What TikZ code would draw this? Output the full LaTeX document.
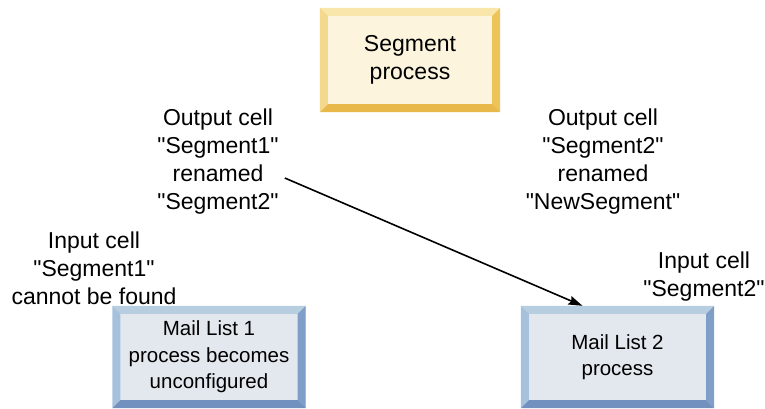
\documentclass[tikz,border=0pt]{standalone}
\usepackage{fontspec}
\setmainfont{Liberation Sans}
\usetikzlibrary{calc,arrows.meta}
\definecolor{segin}{HTML}{FCF4DD}
\definecolor{segtop}{HTML}{F9E6AA}
\definecolor{segleft}{HTML}{F4D98C}
\definecolor{segright}{HTML}{EDC45A}
\definecolor{segbot}{HTML}{E9B84A}
\definecolor{mlin}{HTML}{E3E8EE}
\definecolor{mltop}{HTML}{B6CEE0}
\definecolor{mlleft}{HTML}{A6C1DC}
\definecolor{mlright}{HTML}{7F9FC8}
\definecolor{mlbot}{HTML}{7391BE}
\newcommand{\mybevel}[5]{%
  \fill[#2] (#1.north west) -- (#1.north east) -- ($(#1.north east)+(-8,8)$) -- ($(#1.north west)+(8,8)$) -- cycle;
  \fill[#3] (#1.north west) -- ($(#1.north west)+(8,8)$) -- ($(#1.south west)+(8,-8)$) -- (#1.south west) -- cycle;
  \fill[#4] (#1.north east) -- ($(#1.north east)+(-8,8)$) -- ($(#1.south east)+(-8,-8)$) -- (#1.south east) -- cycle;
  \fill[#5] (#1.south west) -- ($(#1.south west)+(8,-8)$) -- ($(#1.south east)+(-8,-8)$) -- (#1.south east) -- cycle;
}
\newcommand{\dq}{\textquotedbl}
\tikzset{
  lbl/.style={align=center, inner sep=0pt, font=\fontsize{23}{28}\selectfont},
  segbox/.style={rectangle, fill=segin, minimum width=180pt, minimum height=104pt, inner sep=0pt, align=center, font=\fontsize{23}{28}\selectfont},
  mlbox/.style={rectangle, fill=mlin, minimum width=193pt, minimum height=102pt, inner sep=0pt, align=center, font=\fontsize{20.5}{26.5}\selectfont},
  arr/.style={-{Stealth[length=14pt,width=9pt,inset=2pt]}, line width=1.6pt}
}
\begin{document}
\begin{tikzpicture}[x=1pt,y=-1pt]
\useasboundingbox (0,0) rectangle (765,409);
\node[segbox] (seg) at (410,60) {Segment\\process};
\mybevel{seg}{segtop}{segleft}{segright}{segbot}
\node[mlbox] (ml1) at (209,357) {Mail List 1\\process becomes\\unconfigured};
\mybevel{ml1}{mltop}{mlleft}{mlright}{mlbot}
\node[mlbox] (ml2) at (617.5,357) {Mail List 2\\process};
\mybevel{ml2}{mltop}{mlleft}{mlright}{mlbot}
\node[lbl] (out1) at (218,162) {Output cell\\\dq Segment1\dq\\renamed\\\dq Segment2\dq};
\node[lbl] (out2) at (603,162) {Output cell\\\dq Segment2\dq\\renamed\\\dq NewSegment\dq};
\node[lbl] (in1) at (94,268) {Input cell\\\dq Segment1\dq\\cannot be found};
\node[lbl] (in2) at (704,276.5) {Input cell\\\dq Segment2\dq};
\draw[arr] ([xshift=6pt,yshift=-16pt]out1.east) -- ([xshift=-35pt]ml2.north);
\end{tikzpicture}
\end{document}
